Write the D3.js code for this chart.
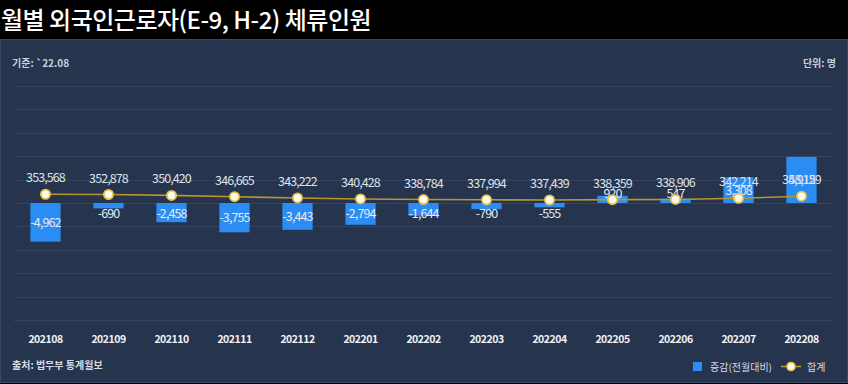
<!DOCTYPE html>
<html>
<head>
<meta charset="utf-8">
<script src="https://cdn.jsdelivr.net/npm/d3@7"></script>
<style>
  body { margin: 0; background: #000; }
  svg { display: block; font-family: "Noto Sans CJK KR", "Noto Sans", sans-serif; }
</style>
</head>
<body>
<div id="chart"></div>
<script>
let w = 848;
let h = 384;

let months = ['202108', '202109', '202110', '202111', '202112', '202201', '202202',
  '202203', '202204', '202205', '202206', '202207', '202208'];
let change = [-4962, -690, -2458, -3755, -3443, -2794, -1644, -790, -555, 920, 547, 3308, 5915];
let total = [353568, 352878, 350420, 346665, 343222, 340428, 338784, 337994, 337439, 338359, 338906, 342214, 348129];

let svg = d3.select('#chart').
append('svg').
attr('width', w).
attr('height', h);

// title band
svg.append('rect').attr('width', w).attr('height', 39).attr('fill', '#000');
svg.append('text').
attr('x', 1).
attr('y', 29).
attr('fill', '#fff').
attr('font-size', 24).
attr('font-weight', 500).
attr('letter-spacing', -0.5).
text('월별 외국인근로자(E-9, H-2) 체류인원');

// panel
svg.append('rect').
attr('x', 0.5).attr('y', 39.5).
attr('width', w - 1).attr('height', h - 41).
attr('fill', '#27344e').
attr('stroke', '#3a4762');

let x = d3.scaleBand().
domain(months).
range([14, 833]).
paddingInner(0.52).
paddingOuter(0.26);

let yBar = d3.scaleLinear().domain([-15000, 15000]).range([320, 86]);
let yLine = d3.scaleLinear().domain([0, 658000]).range([320, 86]);

// grid
svg.append('g').selectAll('line').
data(d3.range(-15000, 15001, 3000)).
enter().
append('line').
attr('x1', 14).attr('x2', 833).
attr('y1', d => Math.round(yBar(d)) + 0.5).
attr('y2', d => Math.round(yBar(d)) + 0.5).
attr('stroke', '#35435e').
attr('stroke-width', 1.2);

// bars
svg.append('g').selectAll('rect').
data(change).
enter().
append('rect').
attr('x', (d, i) => x(months[i])).
attr('width', x.bandwidth()).
attr('y', d => yBar(Math.max(0, d))).
attr('height', d => Math.abs(yBar(d) - yBar(0))).
attr('fill', '#2b8cf3');

svg.append('g').selectAll('text').
data(change).
enter().
append('text').
attr('x', (d, i) => x(months[i]) + x.bandwidth() / 2).
attr('y', d => {
  let c = (yBar(d) + yBar(0)) / 2;
  let off = c - yBar(0);
  if (Math.abs(off) < 10) c = yBar(0) + (d < 0 ? 10 : -10);
  return c + 4.5;
}).
attr('text-anchor', 'middle').
attr('font-size', 12.5).
attr('letter-spacing', -0.9).
attr('fill', '#e6ebf3').
text(d => d3.format(',')(d).replace('−', '-'));

// line
let line = d3.line().
x((d, i) => x(months[i]) + x.bandwidth() / 2).
y(d => yLine(d));

svg.append('path').
attr('d', line(total)).
attr('fill', 'none').
attr('stroke', '#b8962e').
attr('stroke-width', 1.6);

svg.append('g').selectAll('circle').
data(total).
enter().
append('circle').
attr('cx', (d, i) => x(months[i]) + x.bandwidth() / 2).
attr('cy', d => yLine(d)).
attr('r', 4.6).
attr('fill', '#fffbea').
attr('stroke', '#e8c14e').
attr('stroke-width', 1.8);

svg.append('g').selectAll('text').
data(total).
enter().
append('text').
attr('x', (d, i) => x(months[i]) + x.bandwidth() / 2).
attr('y', d => yLine(d) - 12).
attr('text-anchor', 'middle').
attr('font-size', 12.5).
attr('letter-spacing', -0.9).
attr('fill', '#dde2ea').
text(d => d3.format(',')(d));

// x labels
let xAxis = d3.axisBottom(x).tickSize(0).tickPadding(0);
let ax = svg.append('g').
attr('transform', 'translate(0,336)').
call(xAxis);
ax.select('.domain').remove();
ax.selectAll('text').
attr('font-size', 10.5).
attr('font-weight', 'bold').
attr('letter-spacing', -0.5).
attr('fill', '#f0f2f6').
attr('font-family', '"Noto Sans CJK KR", sans-serif');

// notes
svg.append('text').attr('x', 12).attr('y', 67).
attr('font-size', 10).attr('font-weight', 'bold').attr('fill', '#c9ced8').
text('기준: `22.08');
svg.append('text').attr('x', 836).attr('y', 67).attr('text-anchor', 'end').
attr('font-size', 10).attr('font-weight', 'bold').attr('fill', '#c9ced8').
text('단위: 명');
svg.append('text').attr('x', 12).attr('y', 369).
attr('font-size', 10).attr('font-weight', 'bold').attr('fill', '#d6dbe3').
text('출처: 법무부 통계월보');

// legend
let legend = svg.append('g').attr('transform', 'translate(693,362)');
legend.append('rect').attr('width', 9).attr('height', 9).attr('fill', '#2b8cf3');
legend.append('text').attr('x', 17).attr('y', 8.5).
attr('font-size', 10).attr('fill', '#d6dbe3').text('증감(전월대비)');
legend.append('line').attr('x1', 88).attr('x2', 108).attr('y1', 4.5).attr('y2', 4.5).
attr('stroke', '#b8962e').attr('stroke-width', 1.6);
legend.append('circle').attr('cx', 98).attr('cy', 4.5).attr('r', 4).
attr('fill', '#fffbea').attr('stroke', '#e8c14e').attr('stroke-width', 1.6);
legend.append('text').attr('x', 114).attr('y', 8.5).
attr('font-size', 10).attr('fill', '#d6dbe3').text('합계');
</script>
</body>
</html>
